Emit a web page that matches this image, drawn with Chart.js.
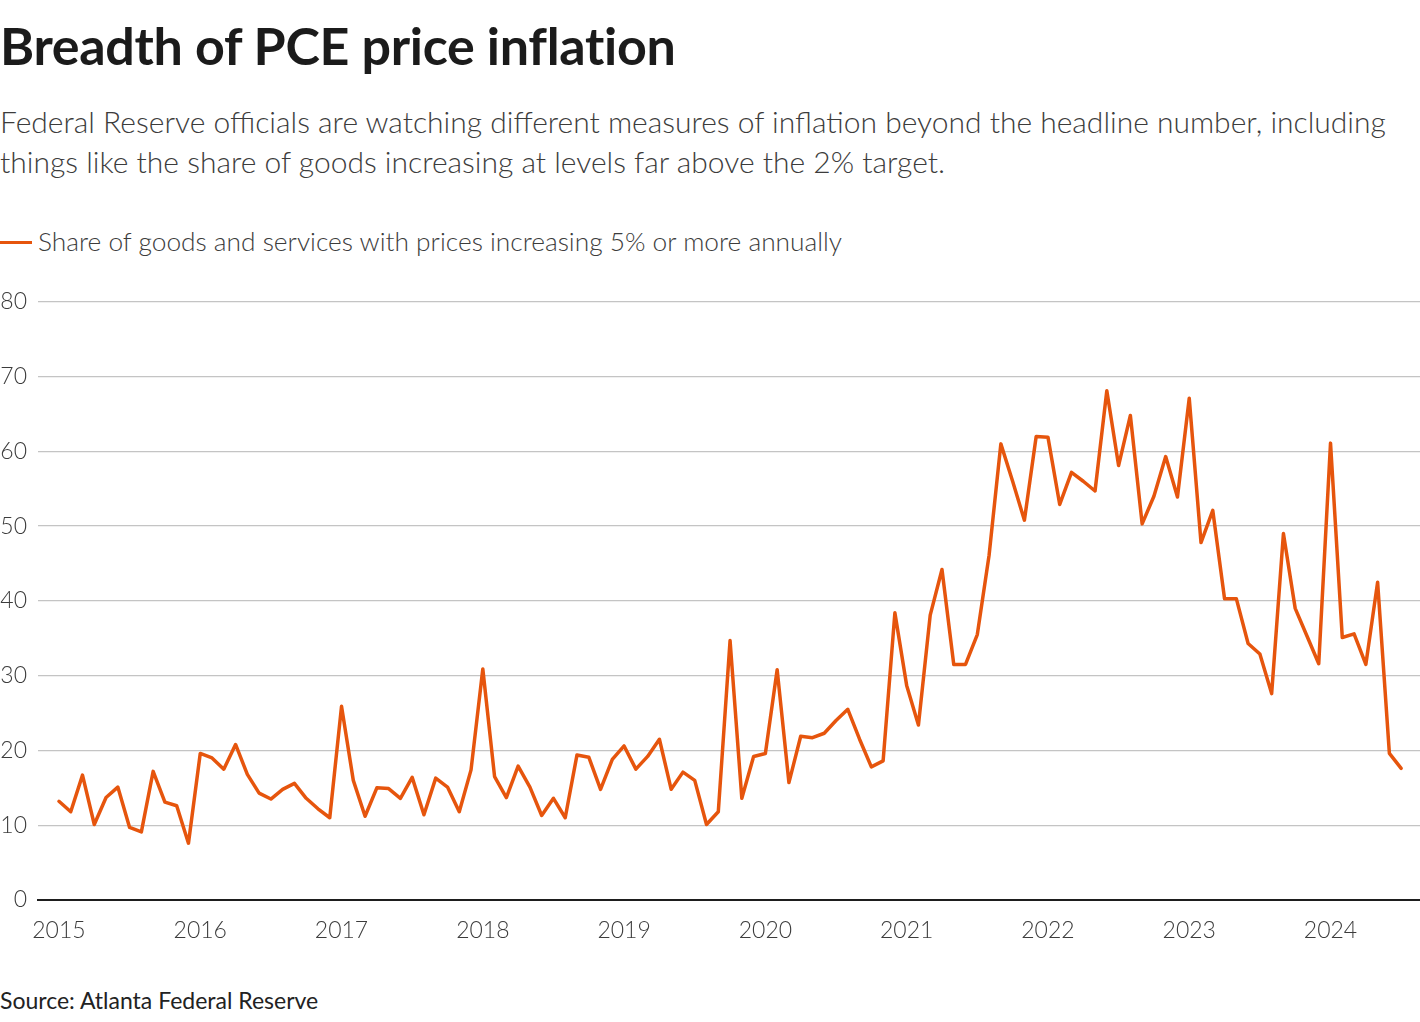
<!DOCTYPE html>
<html>
<head>
<meta charset="utf-8">
<script src="https://cdn.jsdelivr.net/npm/chart.js@4.4.1/dist/chart.umd.min.js"></script>
<style>
  html, body { margin: 0; padding: 0; background: #fff; }
  body { width: 1420px; height: 1022px; position: relative; overflow: hidden; font-family: Lato, "Noto Sans", sans-serif; }
  .t { position: absolute; left: 0; white-space: nowrap; }
  #title { top: 20px; font-size: 52px; line-height: 50px; font-weight: 700; color: #1b1b1b; letter-spacing: -0.3px; }
  #subtitle { top: 101px; font-size: 30px; line-height: 40px; font-weight: 300; color: #3c3c3c; }
  #legend { top: 226px; font-size: 26.3px; line-height: 30px; font-weight: 300; color: #3c3c3c; }
  #legend .sw { display: inline-block; width: 32px; height: 3px; background: #e6550d; vertical-align: middle; margin-right: 6px; position: relative; top: -2px; }
  #source { top: 987px; font-size: 23px; line-height: 26px; font-weight: 400; color: #222; }
  #wrap { position: absolute; left: 0; top: 277px; width: 1420px; height: 673px; }
</style>
</head>
<body>
<div class="t" id="title">Breadth of PCE price inflation</div>
<div class="t" id="subtitle">Federal Reserve officials are watching different measures of inflation beyond the headline number, including<br>things like the share of goods increasing at levels far above the 2% target.</div>
<div class="t" id="legend"><span class="sw"></span>Share of goods and services with prices increasing 5% or more annually</div>
<div class="t" id="source">Source: Atlanta Federal Reserve</div>
<div id="wrap"><canvas id="c" width="1420" height="673"></canvas></div>
<script>
// Monthly share (%) of PCE goods and services with prices increasing 5% or more annually
const v2015 = [13.2, 11.8, 16.7, 10.1, 13.7, 15.1, 9.7, 9.1, 17.2, 13.1, 12.6, 7.6];
const v2016 = [19.6, 19.0, 17.5, 20.8, 16.8, 14.3, 13.5, 14.8, 15.6, 13.6, 12.2, 11.0];
const v2017 = [25.9, 16.0, 11.2, 15.0, 14.9, 13.6, 16.4, 11.4, 16.3, 15.1, 11.8, 17.4];
const v2018 = [30.9, 16.5, 13.7, 17.9, 15.1, 11.3, 13.6, 11.0, 19.4, 19.1, 14.8, 18.8];
const v2019 = [20.6, 17.5, 19.2, 21.5, 14.8, 17.1, 16.0, 10.1, 11.8, 34.7, 13.6, 19.2];
const v2020 = [19.6, 30.8, 15.7, 21.9, 21.7, 22.3, 24.0, 25.5, 21.5, 17.8, 18.6, 38.4];
const v2021 = [28.7, 23.4, 38.1, 44.2, 31.5, 31.5, 35.5, 46.1, 61.0, 56.0, 50.8, 62.0];
const v2022 = [61.9, 52.9, 57.2, 56.0, 54.7, 68.1, 58.1, 64.8, 50.3, 54.0, 59.3, 53.9];
const v2023 = [67.1, 47.8, 52.1, 40.3, 40.3, 34.3, 32.9, 27.6, 49.0, 39.0, 35.3, 31.6];
const v2024 = [61.1, 35.1, 35.6, 31.5, 42.5, 19.6, 17.6];

const years = ['2015','2016','2017','2018','2019','2020','2021','2022','2023','2024'];
const yTicks = [0, 10, 20, 30, 40, 50, 60, 70, 80];
const seriesLabel = 'Share of goods and services with prices increasing 5% or more annually';

const values = [].concat(v2015, v2016, v2017, v2018, v2019, v2020, v2021, v2022, v2023, v2024);
const points = values.map((v, i) => ({ x: i, y: v }));

const tickFont = { family: 'Lato, "Noto Sans", sans-serif', size: 23, weight: '300' };

new Chart(document.getElementById('c'), {
  type: 'line',
  data: {
    datasets: [{
      label: seriesLabel,
      data: points,
      borderColor: '#e6550d',
      borderWidth: 3.5,
      pointRadius: 0,
      tension: 0,
      fill: false,
      borderJoinStyle: 'round',
      borderCapStyle: 'round'
    }]
  },
  options: {
    responsive: false,
    animation: false,
    layout: { padding: { top: 10, right: 0, left: 0, bottom: 0 } },
    plugins: { legend: { display: false }, tooltip: { enabled: false } },
    scales: {
      x: {
        type: 'linear',
        min: -1.78,
        max: 115.6,
        afterBuildTicks: (s) => { s.ticks = years.map((y, i) => ({ value: i * 12 })); },
        afterFit: (s) => { s.height = 50; },
        ticks: {
          autoSkip: false,
          maxRotation: 0,
          padding: 17,
          color: '#3c3c3c',
          font: tickFont,
          callback: (val) => years[Math.round(val / 12)]
        },
        grid: { display: false, drawTicks: false },
        border: { display: true, color: '#1e1e1e', width: 2 }
      },
      y: {
        min: 0,
        max: 80,
        afterBuildTicks: (s) => { s.ticks = yTicks.map(v => ({ value: v })); },
        afterFit: (s) => { s.width = 38; },
        ticks: {
          padding: 11,
          color: '#3c3c3c',
          font: tickFont
        },
        grid: { color: '#c4c4c4', lineWidth: 1.3, drawTicks: false },
        border: { display: false }
      }
    }
  }
});
</script>
</body>
</html>
